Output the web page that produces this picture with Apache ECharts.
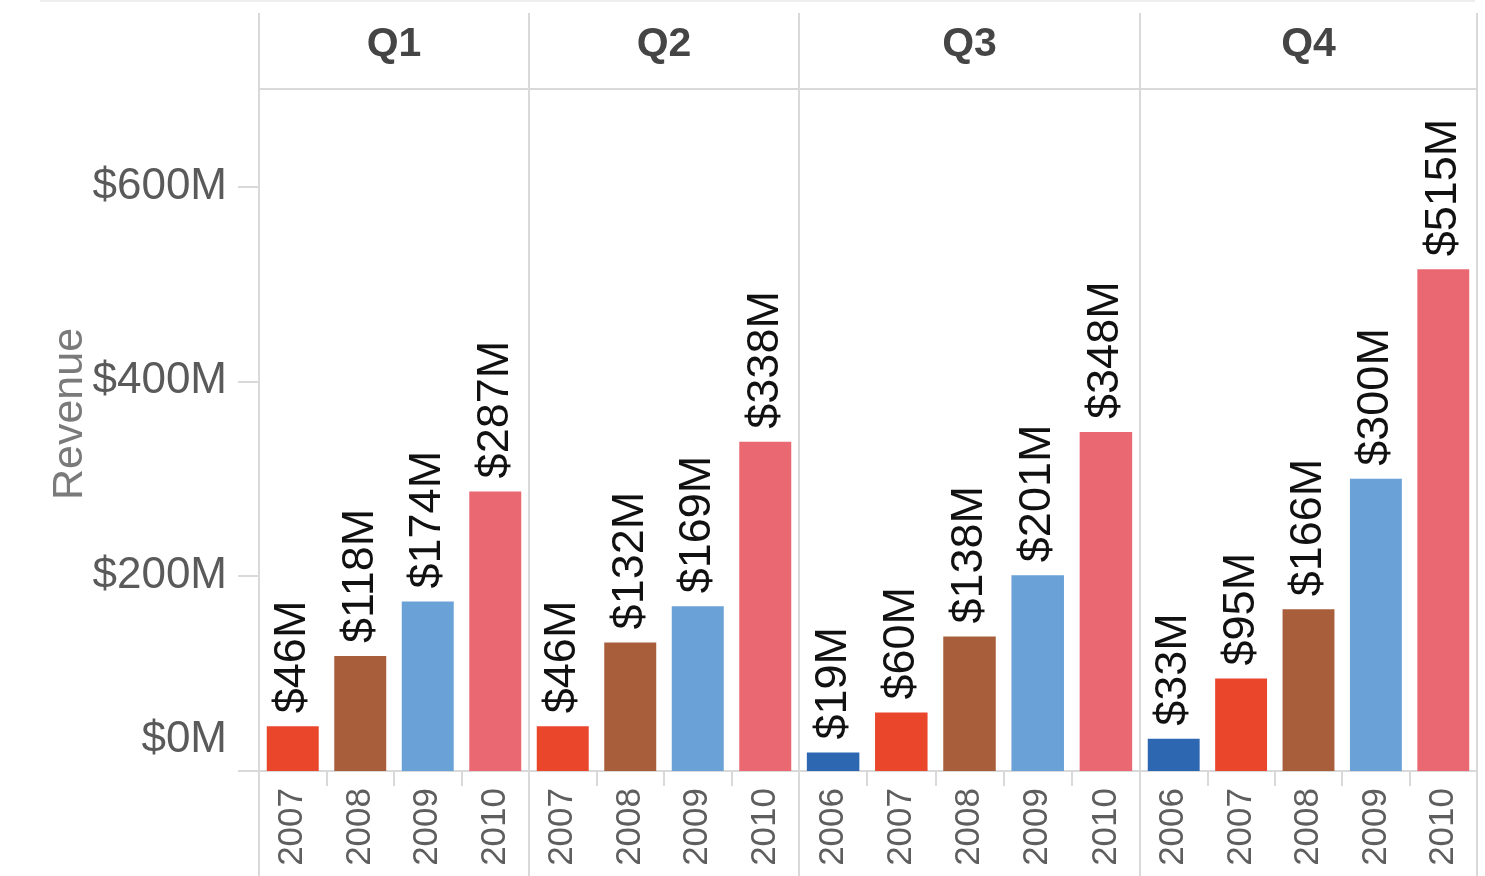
<!DOCTYPE html>
<html>
<head>
<meta charset="utf-8">
<title>Revenue by Quarter and Year</title>
<script src="https://cdn.jsdelivr.net/npm/echarts@6/dist/echarts.min.js"></script>
<style>
  html, body { margin: 0; padding: 0; background: #fff; }
  #chart { width: 1485px; height: 876px; }
</style>
</head>
<body>
<div id="chart"></div>
<script>
// Revenue (in $M) by quarter, split by year
const quarters = ['Q1', 'Q2', 'Q3', 'Q4'];
const yearsQ1 = ['2007', '2008', '2009', '2010'];
const yearsQ2 = ['2007', '2008', '2009', '2010'];
const yearsQ3 = ['2006', '2007', '2008', '2009', '2010'];
const yearsQ4 = ['2006', '2007', '2008', '2009', '2010'];
const revenueQ1 = [46, 118, 174, 287];
const revenueQ2 = [46, 132, 169, 338];
const revenueQ3 = [19, 60, 138, 201, 348];
const revenueQ4 = [33, 95, 166, 300, 515];
const yTicks = [0, 200, 400, 600];

const yearColors = {
  '2006': '#2d67b1',
  '2007': '#ea462c',
  '2008': '#a85e3a',
  '2009': '#6aa1d6',
  '2010': '#e96871'
};

const yearsByQuarter = [yearsQ1, yearsQ2, yearsQ3, yearsQ4];
const revenueByQuarter = [revenueQ1, revenueQ2, revenueQ3, revenueQ4];

// panel layout
const panelEdges = [259, 529, 799, 1140, 1477];
const headerTop = 13;
const plotTop = 89;
const plotBottom = 105;
const font = '"Liberation Sans", Arial, sans-serif';
const lineColor = '#d9d9d9';

const grids = [], xAxes = [], yAxes = [], series = [], graphics = [];

quarters.forEach((q, i) => {
  const left = panelEdges[i];
  const width = panelEdges[i + 1] - panelEdges[i];
  grids.push({ left: left, width: width, top: plotTop, bottom: plotBottom, containLabel: false });
  xAxes.push({
    type: 'category',
    gridIndex: i,
    data: yearsByQuarter[i],
    axisLine: { show: true, lineStyle: { color: lineColor, width: 2 } },
    axisTick: { show: true, length: 15, lineStyle: { color: lineColor, width: 2 } },
    axisLabel: {
      rotate: 90, margin: 17, fontSize: 35, color: '#5e5e5e', fontFamily: font
    }
  });
  yAxes.push({
    type: 'value',
    gridIndex: i,
    min: 0, max: 700, interval: 100,
    show: i === 0,
    splitLine: { show: false },
    axisLine: { show: false },
    axisTick: {
      show: i === 0, length: 21, customValues: yTicks,
      lineStyle: { color: lineColor, width: 2 }
    },
    axisLabel: {
      show: i === 0, margin: 32, fontSize: 44, color: '#5a5a5a', fontFamily: font,
      customValues: yTicks,
      // the zero label sits above its tick so it stays clear of the axis line
      formatter: v => v === 0 ? '{zero|$0M}' : '$' + v + 'M',
      rich: {
        zero: { fontSize: 44, color: '#5a5a5a', fontFamily: font, padding: [0, 0, 62, 0] }
      }
    }
  });
  series.push({
    type: 'bar',
    xAxisIndex: i,
    yAxisIndex: i,
    barWidth: '77%',
    data: revenueByQuarter[i].map((v, j) => ({
      value: v,
      itemStyle: { color: yearColors[yearsByQuarter[i][j]] }
    })),
    label: {
      show: true, position: 'top', rotate: 90, align: 'left', verticalAlign: 'middle',
      distance: 13, fontSize: 45, color: '#111', fontFamily: font,
      formatter: p => '$' + p.value + 'M'
    }
  });
  // quarter header
  graphics.push({
    type: 'text', x: left + width / 2, y: 45,
    style: {
      text: q, align: 'center', verticalAlign: 'middle', fontSize: 41, fontWeight: 'bold',
      fill: '#454545', fontFamily: font
    }
  });
});

// panel frame lines
panelEdges.forEach(x => {
  graphics.push({
    type: 'line', silent: true,
    shape: { x1: x, y1: headerTop, x2: x, y2: 876 },
    style: { stroke: lineColor, lineWidth: 2 }
  });
});
graphics.push({
  type: 'line', silent: true,
  shape: { x1: panelEdges[0], y1: plotTop, x2: panelEdges[4], y2: plotTop },
  style: { stroke: lineColor, lineWidth: 2 }
});
graphics.push({
  type: 'line', silent: true,
  shape: { x1: 40, y1: 1, x2: 1475, y2: 1 },
  style: { stroke: '#eeeeee', lineWidth: 2 }
});
// value axis title
graphics.push({
  type: 'text', x: 70, y: 414, rotation: Math.PI / 2,
  style: {
    text: 'Revenue', align: 'center', verticalAlign: 'middle',
    fontSize: 43, fill: '#7a7a7a', fontFamily: font
  }
});

const chart = echarts.init(document.getElementById('chart'), null, { renderer: 'canvas' });
chart.setOption({
  animation: false,
  backgroundColor: '#fff',
  grid: grids,
  xAxis: xAxes,
  yAxis: yAxes,
  series: series,
  graphic: graphics
});
</script>
</body>
</html>
